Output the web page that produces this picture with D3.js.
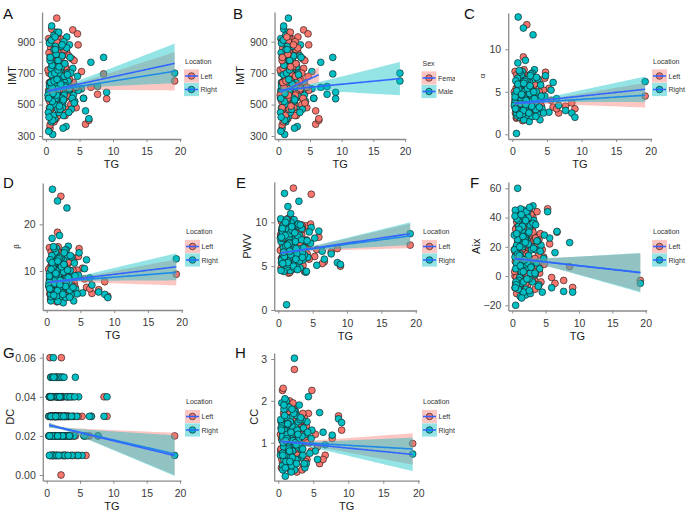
<!DOCTYPE html>
<html><head><meta charset="utf-8">
<script src="https://cdn.jsdelivr.net/npm/d3@7"></script>
<style>body{margin:0;background:#fff}svg{display:block}text{font-family:"Liberation Sans",Arial,Helvetica,sans-serif}</style>
</head><body><svg id="c" width="686" height="513"></svg>
<script>
// ---- data (one entry per subject; each subject has a Left and a Right measurement) ----
const TG = [19.2,8.6,9.05,7.7,6.7,5.9,5.3,6.4,5.6,4.8, 4.0,4.7,4.3,4.5,4.1,3.0,3.3,3.6,3.1,3.8, 3.4,3.2,3.9,3.5,2.1,2.3,2.5,2.2,2.8,2.6, 2.0,2.9,2.4,2.7,2.15,2.45,2.05,2.65,2.35,2.85, 1.6,1.2,1.5,1.8,1.1,1.4,1.9,1.3,1.7,1.05, 1.55,1.25,1.85,1.45,1.65,1.15,1.75,1.35,1.95,1.0, 1.5,1.2,1.7,1.3,0.85,0.6,0.5,0.9,0.7,0.4, 0.8,0.55,0.95,0.65,0.45,0.75,0.35,0.9,0.6,0.8,
 0.3,0.5,0.7,0.9,1.1,1.3,1.5,1.7,1.9,2.1, 2.3,2.5,2.7,2.9,3.1,3.4,3.7,0.4,0.6,0.8, 1.0,1.2,1.4,1.6,1.8,2.0,2.2,2.4,2.6,2.8, 3.2,3.5,0.45,0.65,1.05,1.35,1.65,1.95,2.55,4.2];
const SEX = ["M","M","M","M","M","F","M","F","M","F", "F","F","M","F","M","M","F","M","F","M", "F","M","F","M","F","M","F","F","M","F", "M","F","M","F","M","F","M","F","M","F", "M","M","F","M","F","M","M","F","F","M", "F","M","F","M","F","M","F","M","F","M", "F","M","F","M","M","F","M","M","F","M", "M","F","M","F","M","F","M","F","M","F",
 "F","M","F","M","F","M","F","M","F","M", "F","M","F","M","F","M","F","M","F","M", "M","F","M","F","M","F","M","F","M","F", "M","F","M","F","M","F","M","F","M","F"];
const IMT_L = [650,695,537,565,610,375,710,400,540,880, 975,950,590,480,640,545,720,610,830,500, 660,470,790,575,920,690,520,610,760,450, 880,640,560,720,495,810,600,540,670,430, 1050,740,560,850,620,480,700,590,930,520, 650,780,440,610,710,550,830,660,500,600, 740,390,570,690,980,560,640,720,470,590, 810,520,660,420,700,600,540,880,350,630,
 720,480,860,560,650,940,410,780,530,690, 600,870,450,740,580,810,500,920,370,640, 760,540,680,900,430,620,790,510,700,850, 560,660,830,470,730,600,950,520,680,780];
const IMT_R = [700,800,578,615,769,460,600,410,540,590, 730,680,520,610,560,360,650,800,930,470, 590,700,540,880,620,870,500,760,640,430, 690,590,810,560,720,480,650,900,540,620, 960,680,530,780,600,870,450,710,620,560, 820,500,660,740,590,940,470,630,700,310, 540,850,600,410,1000,480,620,760,560,330, 690,900,520,640,580,730,450,610,800,390,
 560,890,640,750,430,700,820,580,960,470, 740,520,680,610,860,450,700,540,780,910, 400,650,850,560,720,490,630,880,530,760, 690,600,420,800,570,930,660,740,350,510];
const ALPHA_L = [4.5,3.7,3.0,3.3,2.5,3.2,5.4,3.0,4.0,7.3, 5.9,6.6,4.4,5.2,3.5,4.8,6.4,3.1,5.7,2.7, 4.1,2.2,5.0,3.8,12.9,6.0,2.4,4.6,3.3,7.0, 5.1,2.9,6.8,4.0,3.6,5.5,2.0,4.3,6.2,3.0, 9.1,4.9,2.6,6.5,3.4,5.8,1.8,4.2,7.6,3.1, 5.3,2.3,4.7,6.1,3.7,5.0,2.8,4.4,6.9,3.5, 1.6,5.6,3.9,4.5,7.2,2.9,5.1,3.2,6.3,4.0, 2.1,5.4,3.6,4.8,2.5,6.0,3.3,4.1,1.9,5.7,
 5.0,3.1,6.2,2.6,4.4,7.1,3.8,5.5,2.3,4.9, 6.6,3.4,5.8,2.8,4.0,6.0,3.6,7.4,2.0,4.7, 5.2,3.0,6.4,4.2,2.5,5.6,3.9,6.8,3.2,4.6, 5.9,2.7,4.3,7.0,3.5,5.1,2.2,6.1,4.0,3.3];
const ALPHA_R = [6.2,2.5,2.0,2.8,3.4,6.1,2.6,4.2,5.2,6.9, 1.7,4.5,3.0,2.5,5.8,11.7,3.7,2.4,6.5,4.3, 2.9,7.6,3.2,5.0,4.8,3.1,6.1,2.2,4.1,5.6, 3.5,7.2,2.7,4.9,6.3,1.5,4.0,5.3,3.3,2.1, 12.5,4.6,6.7,3.0,5.5,2.4,8.7,3.8,5.1,2.0, 6.2,4.3,3.1,7.4,1.7,5.9,4.0,2.6,6.4,3.6, 5.0,2.3,4.5,7.0,13.8,0.1,3.4,6.0,2.8,4.7, 8.4,3.0,5.5,2.2,4.1,6.6,3.7,5.2,2.5,4.4,
 3.4,6.3,2.9,5.3,7.3,4.1,2.4,6.0,3.7,5.6, 2.6,4.8,7.1,3.9,5.0,2.1,6.5,4.4,3.1,5.9, 7.5,3.6,4.6,2.8,6.2,4.0,5.4,2.5,6.9,3.3, 4.2,6.7,3.0,5.1,2.3,4.7,6.0,3.5,5.7,4.5];
const BETA_L = [9.3,7.7,4.6,6.0,5.2,6.5,10.6,6.2,8.3,14.8, 12.0,13.1,9.0,10.2,7.3,9.5,12.9,6.4,11.5,5.6, 8.4,4.6,10.1,7.7,26.0,12.1,5.0,9.4,6.8,14.2, 10.3,6.0,13.7,8.2,7.3,11.0,4.2,8.8,12.5,6.1, 18.3,9.8,5.4,13.0,6.9,11.7,3.8,8.6,15.2,6.3, 10.7,4.8,9.5,12.3,7.5,10.1,5.7,8.9,13.9,7.1, 3.4,11.3,8.0,9.1,14.5,6.0,10.3,6.5,12.7,8.1, 4.4,10.9,7.3,9.7,5.1,12.1,6.7,8.3,3.9,11.5,
 10.4,6.0,12.1,5.5,8.6,14.6,7.9,10.8,4.9,9.6, 13.4,6.9,11.5,5.4,8.3,12.2,7.0,15.0,4.1,9.3, 10.6,6.2,12.9,8.5,4.8,11.0,8.0,13.8,6.3,9.4, 11.9,5.2,8.9,14.1,7.2,10.1,4.5,12.3,8.2,6.6];
const BETA_R = [12.6,5.0,4.3,5.5,7.0,12.4,5.3,8.5,10.5,13.9, 3.6,9.1,6.1,5.1,11.7,23.5,7.5,4.9,13.1,8.7, 5.9,15.3,6.5,10.1,9.7,6.3,12.3,4.5,8.3,11.3, 7.1,14.5,5.5,9.9,12.7,3.2,8.1,10.7,6.7,4.3, 25.0,9.3,13.5,6.1,11.1,4.9,17.6,7.7,10.3,4.1, 12.5,8.7,6.3,14.9,3.5,11.9,8.1,5.3,12.9,7.3, 10.1,4.7,9.1,14.1,27.5,3.6,6.9,12.1,5.7,9.5, 17.0,6.1,11.1,4.5,8.3,13.3,7.5,10.5,5.1,8.9,
 6.8,12.4,6.0,10.7,14.8,8.1,4.7,12.2,7.6,11.0, 5.3,9.8,14.5,7.7,10.2,4.4,13.0,8.9,6.1,11.8, 15.2,7.3,9.2,5.8,12.6,8.0,10.9,5.0,13.9,6.7, 8.6,13.3,6.2,10.4,4.8,9.5,12.1,7.1,11.4,9.0];
const PWV_L = [7.4,7.0,5.0,6.6,5.5,8.3,6.1,5.3,6.9,13.2, 9.6,9.8,7.2,5.8,8.0,6.6,9.2,5.1,7.7,4.4, 8.6,6.0,7.1,9.5,10.3,6.4,4.9,13.9,8.1,5.6, 7.5,9.0,6.2,8.4,4.7,7.9,10.0,5.3,6.8,8.7, 10.5,6.3,4.2,8.9,7.0,5.5,9.3,6.7,4.5,8.2, 7.4,10.2,5.9,6.9,8.5,4.9,7.8,9.7,6.1,5.2, 8.0,7.2,4.3,9.4,6.5,8.8,5.7,7.6,9.9,4.8, 6.9,8.3,5.4,7.1,10.1,6.0,8.6,4.6,7.3,9.1,
 6.8,9.1,5.4,7.7,8.8,4.6,10.0,6.3,7.5,5.1, 9.4,6.6,8.1,4.9,7.2,9.7,5.8,8.4,6.0,10.2, 7.0,5.5,8.9,6.5,9.9,4.7,7.9,6.2,8.6,5.3, 7.4,9.2,5.9,8.0,6.9,10.4,5.0,7.6,8.3,6.4];
const PWV_R = [8.7,5.4,5.2,6.4,5.8,9.0,8.2,6.7,5.1,9.4, 4.3,7.6,6.0,8.9,4.4,12.4,7.0,5.7,8.5,6.3, 9.3,4.8,7.9,6.5,8.0,10.3,5.5,7.3,9.6,6.1, 4.6,8.3,7.0,5.8,9.1,6.6,8.7,4.9,7.5,9.8, 6.2,0.6,8.4,11.0,5.3,11.8,7.2,9.5,6.0,4.7, 8.1,6.8,10.0,5.6,7.7,9.2,4.5,6.4,8.8,7.4, 5.0,9.9,6.9,4.9,8.6,5.9,9.0,13.3,6.3,7.8, 4.4,9.4,6.7,8.2,5.4,7.1,10.4,5.8,8.9,6.6,
 8.2,5.7,9.6,6.1,7.3,10.1,5.2,8.7,6.8,9.0, 4.8,7.8,6.4,9.8,5.6,8.0,7.1,4.5,9.3,6.6, 8.5,10.3,5.4,7.6,6.3,9.1,5.0,8.8,7.0,4.6, 9.7,6.0,8.3,5.3,10.0,7.4,6.7,9.5,5.8,7.9];
const AIX_L = [-3,6.5,-7.8,-3,30,-1,46,-5,22,8, 25,13,-4,18,2,32,-2,20,40,7, -9,28,14,3,38,-6,24,10,35,-1, 16,29,5,43,-10,19,12,31,-3,23, 41,8,27,-7,15,34,1,21,-12,36, 9,26,-4,17,44,4,30,-8,13,22, 39,-2,11,28,6,33,-5,19,42,0, 24,14,-9,37,10,27,3,16,-1,31,
 18,32,-6,25,10,40,2,28,-10,15, 35,6,22,-3,30,12,44,-8,20,8, 27,-1,37,14,24,-5,33,9,19,42, 0,26,16,-12,31,11,38,4,21,29];
const AIX_R = [-5,22.9,-11,-10.5,30.5,-8,44,16,26,28, -6,12,21,-11,5,-4,36,9,48,24, 1,38,-7,18,11,44,-2,29,7,33, -13,20,40,2,25,14,-9,35,6,19, 30,-14,23,45,-1,12,37,4,27,-7, 20,46,8,31,-11,15,39,3,26,-3, 10,33,22,-5,41,17,-20,29,7,13, 60,-4,34,21,45,-8,18,38,9,25,
 28,5,39,-9,20,13,34,-4,25,44, 9,30,-12,18,36,2,24,41,-6,15, 32,7,-15,27,11,38,-2,22,47,6, 19,35,-8,29,14,42,3,23,-10,17];
const DC_L = [0.02,0.04,0.03,0.02,0.03,0.01,0.03,0.02,0.02,0.01, 0.02,0.03,0.02,0.01,0.03,0.02,0.03,0.01,0.02,0.03, 0.02,0.04,0.01,0.02,0.03,0.02,0.01,0.06,0.03,0.02, 0.04,0.02,0.03,0.01,0.00,0.02,0.03,0.02,0.04,0.01, 0.03,0.02,0.01,0.04,0.02,0.03,0.02,0.05,0.03,0.02, 0.01,0.03,0.02,0.04,0.02,0.03,0.01,0.02,0.03,0.04, 0.02,0.03,0.02,0.01,0.03,0.02,0.06,0.03,0.02,0.04, 0.01,0.03,0.02,0.02,0.03,0.01,0.02,0.03,0.02,0.04,
 0.03,0.02,0.04,0.01,0.03,0.02,0.05,0.02,0.03,0.01, 0.02,0.04,0.03,0.02,0.01,0.03,0.02,0.04,0.03,0.02, 0.01,0.03,0.02,0.05,0.03,0.02,0.04,0.01,0.03,0.02, 0.03,0.02,0.04,0.03,0.01,0.02,0.03,0.05,0.02,0.01];
const DC_R = [0.01,0.03,0.04,0.02,0.03,0.02,0.01,0.03,0.02,0.04, 0.03,0.01,0.05,0.03,0.02,0.03,0.02,0.04,0.03,0.01, 0.02,0.03,0.04,0.02,0.05,0.03,0.02,0.04,0.01,0.03, 0.02,0.04,0.05,0.03,0.02,0.01,0.03,0.02,0.03,0.02, 0.05,0.03,0.04,0.02,0.01,0.03,0.02,0.03,0.04,0.02, 0.03,0.01,0.02,0.03,0.05,0.02,0.03,0.04,0.01,0.06, 0.03,0.02,0.04,0.03,0.02,0.05,0.01,0.02,0.03,0.04, 0.02,0.01,0.03,0.05,0.02,0.04,0.03,0.01,0.03,0.02,
 0.02,0.04,0.03,0.05,0.02,0.03,0.01,0.04,0.02,0.03, 0.05,0.02,0.01,0.03,0.04,0.02,0.03,0.01,0.04,0.03, 0.02,0.05,0.03,0.02,0.01,0.04,0.03,0.02,0.05,0.03, 0.01,0.04,0.02,0.03,0.05,0.03,0.02,0.04,0.03,0.04];
const CC_L = [0.98,1.64,1.3,1.1,0.7,0.5,1.2,0.6,0.9,2.25, 1.4,0.8,1.7,1.0,0.6,1.5,0.9,0.45,1.3,1.1, 0.7,1.5,0.55,1.2,0.85,2.75,1.05,0.4,1.35,0.75, 1.6,0.95,0.5,1.25,1.8,0.65,1.15,0.3,1.45,0.85, 2.0,0.7,1.3,0.5,1.1,1.75,0.8,1.4,0.35,1.0, 1.55,0.6,1.2,0.9,1.65,0.45,1.05,1.35,0.75,1.9, 0.95,1.25,0.55,1.45,1.0,2.25,0.7,1.15,2.3,0.85, 1.5,0.4,1.3,0.65,1.1,1.7,0.8,1.2,0.5,1.4,
 1.2,0.6,1.5,0.9,1.35,0.45,1.7,0.8,1.1,1.95, 0.55,1.25,0.7,1.45,1.0,0.35,1.6,0.85,1.3,0.65, 1.8,1.05,0.5,1.4,0.75,1.15,1.55,0.6,1.0,1.3, 0.9,1.7,0.4,1.2,1.5,0.8,1.1,0.65,1.35,1.0];
const CC_R = [0.73,1.57,1.48,1.18,0.95,1.72,0.8,1.25,0.6,1.3, 0.5,1.1,2.1,0.75,1.5,1.9,0.65,1.35,1.0,0.4, 1.55,0.85,1.2,0.7,1.45,3.02,0.55,1.3,0.9,1.65, 0.45,1.1,1.4,0.6,1.05,1.75,0.8,1.25,0.35,1.5, 1.15,0.55,1.85,0.95,1.35,0.4,1.2,0.7,1.6,0.85, 1.0,1.45,0.3,1.25,0.75,2.0,1.1,0.5,1.4,0.2, 0.9,1.6,1.05,0.65,1.3,0.45,1.95,0.8,1.2,1.5, 0.6,1.05,2.05,0.35,1.35,0.9,1.55,0.7,1.15,1.8,
 0.7,1.4,1.0,1.65,0.55,1.2,0.85,1.5,0.45,1.05, 1.75,0.6,1.3,0.95,1.55,1.15,0.5,1.35,0.75,1.9, 0.4,1.1,1.45,0.8,1.25,0.65,1.7,1.0,0.5,1.2, 1.6,0.85,1.3,0.7,1.05,1.45,0.55,1.8,0.95,1.25];

// fitted lines: [group, xStart, yStart, xEnd, yEnd, xMean, halfWidthMin, halfWidthEnd]
const FIT_IMT = [["Left",0.35,585,19.2,712,2.2,14,122],["Right",0.35,588,19.2,762,2.2,14,126]];
const FIT_IMT_SEX = [["Female",0.35,578,6.4,690,2.0,14,50],["Male",0.35,592,19.2,665,2.4,12,106]];
const FIT_ALPHA = [["Left",0.35,3.6,19.2,4.6,2.2,0.15,1.45],["Right",0.35,3.65,19.2,5.3,2.2,0.15,1.5]];
const FIT_BETA = [["Left",0.35,7.6,19.2,9.7,2.2,0.3,2.8],["Right",0.35,7.6,19.2,10.9,2.2,0.3,2.9]];
const FIT_PWV = [["Left",0.35,6.5,19.2,8.45,2.2,0.12,1.4],["Right",0.35,6.5,19.2,8.7,2.2,0.12,1.3]];
const FIT_AIX = [["Left",0.35,12,19.2,2.5,2.2,1.5,13],["Right",0.35,12,19.2,2.3,2.2,1.5,13.5]];
const FIT_DC = [["Left",0.35,0.0255,19.2,0.0108,2.2,0.0007,0.0108],["Right",0.35,0.0255,19.2,0.0099,2.2,0.0007,0.0104]];
const FIT_CC = [["Left",0.35,1.03,19.2,0.85,2.2,0.03,0.375],["Right",0.35,1.03,19.2,0.72,2.2,0.03,0.4]];

const X_TICKS = [0,5,10,15,20];
const Y_TICKS_IMT = [300,500,700,900];
const Y_TICKS_ALPHA = [0,5,10];
const Y_TICKS_BETA = [10,20];
const Y_TICKS_PWV = [0,5,10];
const Y_TICKS_AIX = [-20,0,20,40,60];
const Y_TICKS_DC = [0,0.02,0.04,0.06];
const Y_TICKS_CC = [1,2,3];
const LOCATIONS = ["Left","Right"];
const SEXES = ["Female","Male"];

// ---- drawing ----
const COLORS = {Left:"#F8766D",Right:"#00BFC4",Female:"#F8766D",Male:"#00BFC4"};
const LINE = "#3366FF";
const svg = d3.select("#c");
const defs = svg.append("defs");
defs.append("clipPath").attr("id","colMid").append("rect").attr("x",228).attr("y",0).attr("width",227).attr("height",513);

const panels = [
 {tag:"A",ylab:"IMT",L:IMT_L,R:IMT_R,bySex:false,fit:FIT_IMT,yt:Y_TICKS_IMT,fmt:d3.format("d"),x0:46,x20:180,yr:[300,136,900,41.7],top:12,bottom:139,tagX:3,tagY:19,ylabX:12,ylabFs:11,leg:[184,63.5,"Location",LOCATIONS]},
 {tag:"B",ylab:"IMT",L:IMT_L,R:IMT_R,bySex:true,fit:FIT_IMT_SEX,yt:Y_TICKS_IMT,fmt:d3.format("d"),x0:278.3,x20:405,yr:[300,136,900,41.7],top:12,bottom:139,tagX:233,tagY:19,ylabX:240,ylabFs:11,leg:[421.5,65.5,"Sex",SEXES],clip:true},
 {tag:"C",ylab:"α",L:ALPHA_L,R:ALPHA_R,bySex:false,fit:FIT_ALPHA,yt:Y_TICKS_ALPHA,fmt:d3.format("d"),x0:512.3,x20:650.7,yr:[0,134.3,10,49.3],top:13,bottom:139,tagX:464,tagY:19,ylabX:482,ylabFs:8,leg:[652,63.5,"Location",LOCATIONS]},
 {tag:"D",ylab:"β",L:BETA_L,R:BETA_R,bySex:false,fit:FIT_BETA,yt:Y_TICKS_BETA,fmt:d3.format("d"),x0:46.7,x20:181.7,yr:[10,271,20,224.3],top:183,bottom:310,tagX:3,tagY:188,ylabX:16,ylabFs:8,leg:[185,234,"Location",LOCATIONS]},
 {tag:"E",ylab:"PWV",L:PWV_L,R:PWV_R,bySex:false,fit:FIT_PWV,yt:Y_TICKS_PWV,fmt:d3.format("d"),x0:278.3,x20:415.7,yr:[0,310,10,222.3],top:182,bottom:310.5,tagX:236,tagY:188,ylabX:247,ylabFs:11,leg:[422,234,"Location",LOCATIONS],clip:true},
 {tag:"F",ylab:"Aix",L:AIX_L,R:AIX_R,bySex:false,fit:FIT_AIX,yt:Y_TICKS_AIX,fmt:d3.format("d"),x0:512.3,x20:645.7,yr:[-20,305.3,60,188.3],top:182,bottom:310.5,tagX:470,tagY:188,ylabX:476,ylabFs:11,leg:[652,234,"Location",LOCATIONS]},
 {tag:"G",ylab:"DC",L:DC_L,R:DC_R,bySex:false,fit:FIT_DC,yt:Y_TICKS_DC,fmt:d3.format(".2f"),x0:46.7,x20:180,yr:[0,475,0.06,357.7],top:353,bottom:480.7,tagX:3,tagY:358,ylabX:10,ylabFs:11,leg:[185,404,"Location",LOCATIONS]},
 {tag:"H",ylab:"CC",L:CC_L,R:CC_R,bySex:false,fit:FIT_CC,yt:Y_TICKS_CC,fmt:d3.format("d"),x0:278.3,x20:418.3,yr:[1,442.7,3,359],top:353,bottom:480.7,tagX:235,tagY:358,ylabX:254,ylabFs:11,leg:[422,404,"Location",LOCATIONS],clip:true}
];

panels.forEach(p => {
  const g = svg.append("g");
  if (p.clip) g.attr("clip-path","url(#colMid)");
  const tx = d3.scaleLinear().domain([0,20]).range([p.x0,p.x20]);
  const x = d3.scaleLinear().domain([-0.59,20.14]).range([tx(-0.59),tx(20.14)]);
  const ty = d3.scaleLinear().domain([p.yr[0],p.yr[2]]).range([p.yr[1],p.yr[3]]);
  const y = d3.scaleLinear().domain([ty.invert(p.bottom),ty.invert(p.top)]).range([p.bottom,p.top]);

  const grp = (i, side) => p.bySex ? (SEX[i]==="F"?"Female":"Male") : side;
  const pts = TG.map((t,i)=>({x:t,y:p.L[i],g:grp(i,"Left")}))
    .concat(TG.map((t,i)=>({x:t,y:p.R[i],g:grp(i,"Right")})));

  g.append("g").selectAll("circle").data(pts).join("circle")
    .attr("cx",d=>x(d.x)).attr("cy",d=>y(d.y)).attr("r",3.4)
    .attr("fill",d=>COLORS[d.g]).attr("stroke","#111").attr("stroke-width",0.6);

  p.fit.forEach(f => {
    const [grpName,xs,ys,xe,ye,xm,w0,w1] = f;
    const slope = (ye-ys)/(xe-xs);
    const k2 = (w1*w1-w0*w0)/((xe-xm)*(xe-xm));
    const samp = d3.range(81).map(j=>{
      const xx = xs+(xe-xs)*j/80;
      const yy = ys+slope*(xx-xs);
      const w = Math.sqrt(w0*w0 + k2*(xx-xm)*(xx-xm));
      return {x:xx,y:yy,lo:yy-w,hi:yy+w};
    });
    g.append("path").datum(samp)
      .attr("d",d3.area().x(d=>x(d.x)).y0(d=>y(d.lo)).y1(d=>y(d.hi)))
      .attr("fill",COLORS[grpName]).attr("fill-opacity",0.42);
    g.append("path").datum(samp)
      .attr("d",d3.line().x(d=>x(d.x)).y(d=>y(d.y)))
      .attr("fill","none").attr("stroke",LINE).attr("stroke-width",1.6);
  });

  const ax = g.append("g").attr("transform",`translate(0,${p.bottom})`)
    .call(d3.axisBottom(x).tickValues(X_TICKS).tickSize(3).tickSizeOuter(0).tickPadding(6).tickFormat(d3.format("d")));
  const ay = g.append("g").attr("transform",`translate(${x.range()[0]},0)`)
    .call(d3.axisLeft(y).tickValues(p.yt).tickSize(3).tickSizeOuter(0).tickPadding(4).tickFormat(p.fmt));
  [ax,ay].forEach(a=>{
    a.select(".domain").attr("stroke","#8a8a8a").attr("stroke-width",1.3);
    a.selectAll(".tick line").attr("stroke","#8a8a8a").attr("stroke-width",1);
    a.selectAll("text").attr("fill","#3a3a3a").style("font-size","10.5px");
  });

  g.append("text").attr("x",(x.range()[0]+x.range()[1])/2).attr("y",p.bottom+29)
    .attr("text-anchor","middle").style("font-size","11px").attr("fill","#1a1a1a").text("TG");
  g.append("text").attr("transform",`translate(${p.ylabX},${(p.top+p.bottom)/2}) rotate(-90)`)
    .attr("text-anchor","middle").attr("dy","0.35em").style("font-size",p.ylabFs+"px").attr("fill","#1a1a1a").text(p.ylab);
  g.append("text").attr("x",p.tagX).attr("y",p.tagY).style("font-size","15px").attr("fill","#111").text(p.tag);

  const [lx,ly,title,groups] = p.leg;
  const lg = g.append("g");
  lg.append("text").attr("x",lx+1).attr("y",ly).style("font-size","7px").attr("fill","#333").text(title);
  groups.forEach((name,i)=>{
    const cy = ly+12.5+i*13.5;
    lg.append("rect").attr("x",lx).attr("y",cy-6.6).attr("width",15).attr("height",13.2)
      .attr("fill",COLORS[name]).attr("fill-opacity",0.42);
    lg.append("circle").attr("cx",lx+7.5).attr("cy",cy).attr("r",3.3)
      .attr("fill",COLORS[name]).attr("stroke","#111").attr("stroke-width",0.6);
    lg.append("line").attr("x1",lx+1).attr("x2",lx+14).attr("y1",cy).attr("y2",cy)
      .attr("stroke",LINE).attr("stroke-width",1.6);
    lg.append("text").attr("x",lx+16.5).attr("y",cy+2.6).style("font-size","7px").attr("fill","#333").text(name);
  });
});
</script></body></html>
